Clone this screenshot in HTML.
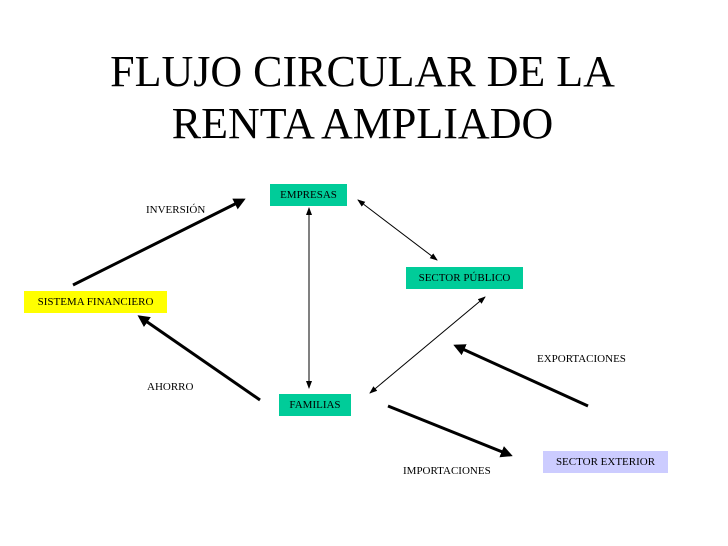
<!DOCTYPE html>
<html><head><meta charset="utf-8"><style>
html,body{margin:0;padding:0;background:#fff;}
body{width:728px;height:546px;position:relative;overflow:hidden;font-family:"Liberation Serif",serif;}
.t{position:absolute;left:0;width:725px;text-align:center;font-size:44px;line-height:52px;color:#000;}
.b{position:absolute;font-size:11px;line-height:22px;text-align:center;color:#000;}
.l{position:absolute;font-size:11px;color:#000;white-space:nowrap;}
</style></head><body>
<div class="t" style="top:46px">FLUJO CIRCULAR DE LA</div>
<div class="t" style="top:98px">RENTA AMPLIADO</div>
<svg width="728" height="546" style="position:absolute;left:0;top:0">
<defs>
<marker id="h" markerWidth="4" markerHeight="4" refX="3" refY="2" orient="auto-start-reverse" markerUnits="strokeWidth"><path d="M0,0 L4,2 L0,4 z" fill="#000"/></marker>
<marker id="s" markerWidth="8" markerHeight="6" refX="7" refY="3" orient="auto-start-reverse" markerUnits="strokeWidth"><path d="M0,0 L8,3 L0,6 z" fill="#000"/></marker>
</defs>
<g stroke="#000" fill="none">
<line x1="73" y1="285" x2="243" y2="200" stroke-width="3" marker-end="url(#h)"/>
<line x1="260" y1="400" x2="140" y2="317" stroke-width="3" marker-end="url(#h)"/>
<line x1="588" y1="406" x2="456" y2="346" stroke-width="3" marker-end="url(#h)"/>
<line x1="388" y1="406" x2="510" y2="455" stroke-width="3" marker-end="url(#h)"/>
<line x1="309" y1="208" x2="309" y2="388" stroke-width="1" marker-start="url(#s)" marker-end="url(#s)"/>
<line x1="358" y1="200" x2="437" y2="260" stroke-width="1" marker-start="url(#s)" marker-end="url(#s)"/>
<line x1="485" y1="297" x2="370" y2="393" stroke-width="1" marker-start="url(#s)" marker-end="url(#s)"/>
</g></svg>
<div class="b" style="left:270px;top:184px;width:77px;background:#00cc99">EMPRESAS</div>
<div class="b" style="left:24px;top:291px;width:143px;background:#ffff00">SISTEMA FINANCIERO</div>
<div class="b" style="left:279px;top:394px;width:72px;background:#00cc99">FAMILIAS</div>
<div class="b" style="left:406px;top:267px;width:117px;background:#00cc99">SECTOR PÚBLICO</div>
<div class="b" style="left:543px;top:451px;width:125px;background:#ccccff">SECTOR EXTERIOR</div>
<div class="l" style="left:146px;top:204px">INVERSIÓN</div>
<div class="l" style="left:147px;top:381px">AHORRO</div>
<div class="l" style="left:537px;top:353px">EXPORTACIONES</div>
<div class="l" style="left:403px;top:465px">IMPORTACIONES</div>
</body></html>
